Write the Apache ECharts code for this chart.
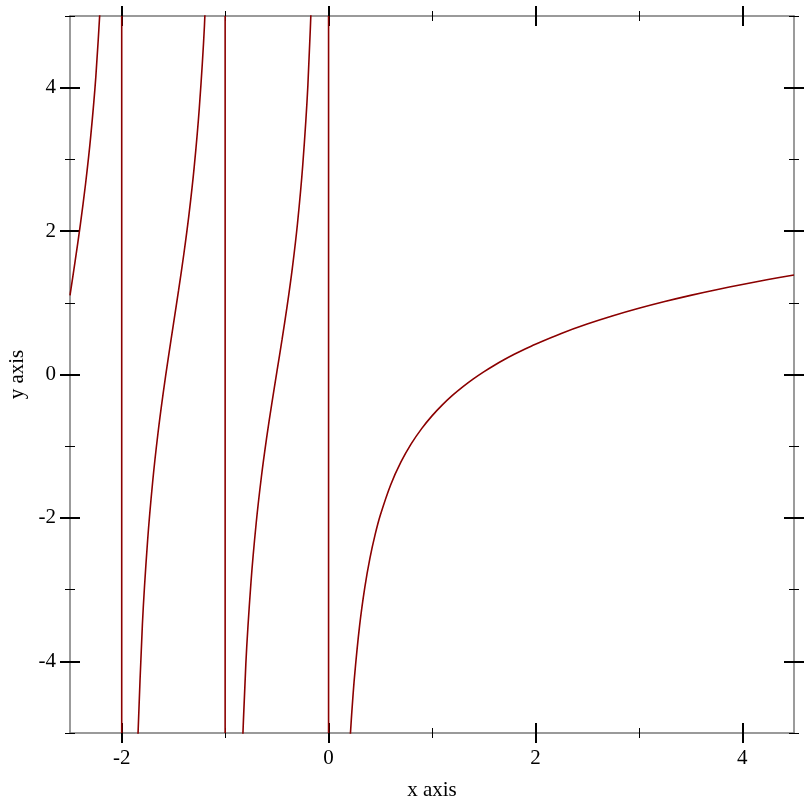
<!DOCTYPE html>
<html>
<head>
<meta charset="utf-8">
<script src="https://cdn.jsdelivr.net/npm/echarts@6/dist/echarts.min.js"></script>
<style>
html,body{margin:0;padding:0;background:#fff;}
#chart{width:812px;height:812px;}
</style>
</head>
<body>
<div id="chart"></div>
<script>
// ---- data ----
const xRange = [-2.5, 4.5];
const yRange = [-5, 5];
const xMajorTicks = [-2, 0, 2, 4];
const xMinorTicks = [-1, 1, 3];
const yMajorTicks = [-4, -2, 0, 2, 4];
const yMinorTicks = [-5, -3, -1, 1, 3, 5];
const xTitle = 'x axis';
const yTitle = 'y axis';

// branch left of x = -2
const branch1X = [-2.5, -2.45, -2.4, -2.35, -2.3, -2.25, -2.2];
const branch1Y = [1.1032, 1.5842, 2.0904, 2.6531, 3.3173, 4.1586, 5.3228];
// branch between -2 and -1
const branch2X = [-1.85, -1.8, -1.75, -1.7, -1.65, -1.6, -1.55, -1.5, -1.45, -1.4, -1.35, -1.3, -1.25, -1.2, -1.15];
const branch2Y = [-5.304, -3.4834, -2.3227, -1.4858, -0.8266, -0.2698, 0.2298, 0.7032, 1.176, 1.6737, 2.2276, 2.8825, 3.7142, 4.8683, 6.681];
// branch between -1 and 0
const branch3X = [-0.85, -0.8, -0.75, -0.7, -0.65, -0.6, -0.55, -0.5, -0.45, -0.4, -0.35, -0.3, -0.25, -0.2, -0.15];
const branch3Y = [-5.8445, -4.039, -2.8941, -2.074, -1.4327, -0.8948, -0.4154, 0.0365, 0.4863, 0.9594, 1.4869, 2.1133, 2.9142, 4.035, 5.8114];
// branch right of 0
const branch4X = [0.2, 0.22, 0.25, 0.3, 0.35, 0.4, 0.45, 0.5, 0.6, 0.7, 0.8, 0.9, 1.0, 1.1, 1.2, 1.3, 1.4, 1.5, 1.6, 1.7, 1.8, 1.9, 2.0, 2.25, 2.5, 2.75, 3.0, 3.25, 3.5, 3.75, 4.0, 4.25, 4.5];
const branch4Y = [-5.289, -4.8094, -4.2274, -3.5025, -2.9711, -2.5614, -2.2336, -1.9635, -1.5406, -1.22, -0.965, -0.7549, -0.5772, -0.4238, -0.289, -0.1692, -0.0614, 0.0365, 0.126, 0.2085, 0.285, 0.3562, 0.4228, 0.5726, 0.7032, 0.8189, 0.9228, 1.017, 1.1032, 1.1825, 1.2561, 1.3247, 1.3889];
// vertical jumps drawn at the poles
const poleX = [-2, -1, 0];

// ---- styles ----
const curveColor = '#8b0000';
const frameColor = '#7a7a7a';
const fontFamily = '"Liberation Serif", "Times New Roman", serif';
const fontSize = 21;

const zip = (xs, ys) => xs.map((x, i) => [x, ys[i]]);

function axisBase(extra) {
  return Object.assign({
    type: 'value',
    splitLine: { show: false },
    axisLine: { show: false, onZero: false },
    axisTick: { show: false },
    axisLabel: { show: false },
    minorTick: { show: false },
  }, extra);
}

function buildAxes(range, majors, minors, sideA, sideB, title, isY) {
  const axes = [];
  const r = { min: range[0], max: range[1] };
  axes.push(axisBase(Object.assign({}, r, {
    position: sideA,
    axisLine: { show: true, onZero: false, lineStyle: { color: frameColor, width: 1.5 } },
    axisLabel: {
      show: true, customValues: majors, color: '#000',
      fontFamily: fontFamily, fontSize: fontSize, margin: isY ? 14 : 15,
      formatter: v => String(v)
    },
    name: title, nameLocation: 'middle', nameGap: isY ? 42 : 47,
    nameRotate: isY ? 90 : 0,
    nameTextStyle: { color: '#000', fontFamily: fontFamily, fontSize: fontSize }
  })));
  [sideA, sideB].forEach(side => {
    if (side === sideB) {
      axes.push(axisBase(Object.assign({}, r, {
        position: side,
        axisLine: { show: true, onZero: false, lineStyle: { color: frameColor, width: 1.5 } }
      })));
    }
    axes.push(axisBase(Object.assign({}, r, {
      position: side, offset: -10,
      axisTick: { show: true, customValues: majors, length: 20, lineStyle: { color: '#000', width: 2 } }
    })));
    axes.push(axisBase(Object.assign({}, r, {
      position: side, offset: -5,
      axisTick: { show: true, customValues: minors, length: 10, lineStyle: { color: '#000', width: 1 } }
    })));
  });
  return axes;
}

const xAxes = buildAxes(xRange, xMajorTicks, xMinorTicks, 'bottom', 'top', xTitle, false);
const yAxes = buildAxes(yRange, yMajorTicks, yMinorTicks, 'left', 'right', yTitle, true);

const lineStyle = { color: curveColor, width: 1.6 };
const branches = [zip(branch1X, branch1Y), zip(branch2X, branch2Y), zip(branch3X, branch3Y), zip(branch4X, branch4Y)];
const series = branches.map(d => ({
  type: 'line', data: d, xAxisIndex: 0, yAxisIndex: 0,
  showSymbol: false, symbol: 'none', smooth: 0.3,
  lineStyle: lineStyle, clip: true, silent: true, animation: false
}));
poleX.forEach(px => {
  series.push({
    type: 'line', data: [[px, yRange[1]], [px, yRange[0]]], xAxisIndex: 0, yAxisIndex: 0,
    showSymbol: false, symbol: 'none', lineStyle: lineStyle, clip: true, silent: true, animation: false
  });
});

const chart = echarts.init(document.getElementById('chart'), null, { renderer: 'canvas' });
chart.setOption({
  animation: false,
  backgroundColor: '#fff',
  grid: { left: 70, top: 16, width: 724, height: 717, containLabel: false, outerBoundsMode: 'none' },
  xAxis: xAxes,
  yAxis: yAxes,
  series: series
});
</script>
</body>
</html>
